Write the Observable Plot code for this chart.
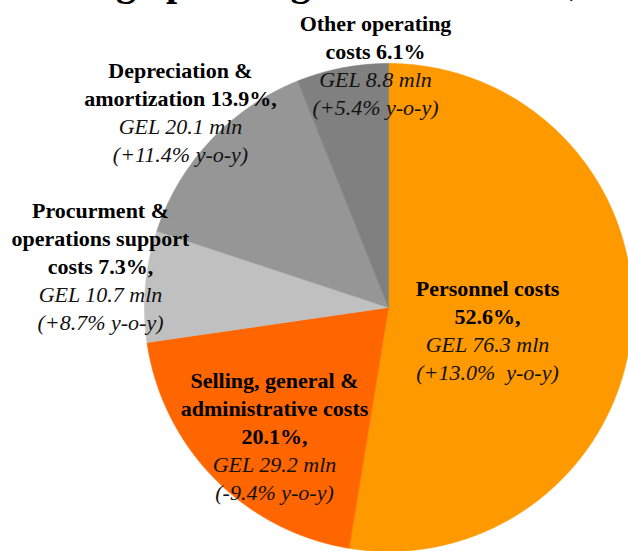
<!DOCTYPE html>
<html>
<head>
<meta charset="utf-8">
<script src="https://cdn.jsdelivr.net/npm/d3@7"></script>
<script src="https://cdn.jsdelivr.net/npm/@observablehq/plot@0.6"></script>
<style>
  html, body { margin: 0; padding: 0; background: #fff; }
  #chart svg { display: block; }
</style>
</head>
<body>
<div id="chart"></div>
<script>
// ---- data ----
const title = "Recurring operating costs structure, GEL mln";
const categories = [
  "Personnel costs",
  "Selling, general & administrative costs",
  "Procurment & operations support costs",
  "Depreciation & amortization",
  "Other operating costs"
];
const values = [76.3, 29.2, 10.7, 20.1, 8.8];          // GEL mln
const shares = ["52.6%", "20.1%", "7.3%", "13.9%", "6.1%"];
const yoy = ["+13.0%", "-9.4%", "+8.7%", "+11.4%", "+5.4%"];
const colors = ["#FF9900", "#FF6600", "#C0C0C0", "#969696", "#808080"];

// bold label lines (as broken in the original)
const boldLines = [
  ["Personnel costs", `${shares[0]},`],
  ["Selling, general &", "administrative costs", `${shares[1]},`],
  ["Procurment &", "operations support", `costs ${shares[2]},`],
  ["Depreciation &", `amortization ${shares[3]},`],
  ["Other operating", `costs ${shares[4]}`]
];
const italicLines = values.map((v, i) => [
  `GEL ${v.toFixed(1)} mln`,
  i === 0 ? `(${yoy[i]}\u00a0 y-o-y)` : `(${yoy[i]} y-o-y)`
]);

// ---- layout (pixels) ----
const W = 628, H = 551;
const CX = 388, CY = 307, R = 244;
const labelAnchor = [[487, 295], [274, 387], [100, 217], [180, 77], [375, 30]]; // centre x, first baseline
const lineStep = 28;
const FONT = "Liberation Serif, DejaVu Serif, serif";

// ---- slice geometry from values ----
const total = d3.sum(values);
const slicePts = [];
let acc = 0;
values.forEach((v, i) => {
  const a0 = acc / total * 2 * Math.PI;
  acc += v;
  const a1 = acc / total * 2 * Math.PI;
  const n = Math.max(2, Math.ceil((a1 - a0) / 0.005));
  slicePts.push({cat: categories[i], x: 0, y: 0});
  for (let k = 0; k <= n; k++) {
    const a = a0 + (a1 - a0) * k / n;
    slicePts.push({cat: categories[i], x: Math.sin(a), y: Math.cos(a)});
  }
  slicePts.push({cat: categories[i], x: 0, y: 0});
});

// ---- label rows ----
const rows = [];
categories.forEach((c, i) => {
  const [px, py] = labelAnchor[i];
  const lines = boldLines[i].map(t => ({t, bold: true})).concat(italicLines[i].map(t => ({t, bold: false})));
  lines.forEach((l, j) => {
    rows.push({
      x: (px - CX) / R,
      y: (CY - (py + j * lineStep)) / R,
      text: l.t,
      bold: l.bold
    });
  });
});

const chart = Plot.plot({
  width: W,
  height: H,
  margin: 0,
  style: {background: "#fff", overflow: "hidden"},
  x: {domain: [-CX / R, (W - CX) / R], axis: null},
  y: {domain: [-(H - CY) / R, CY / R], axis: null},
  color: {domain: categories, range: colors},
  marks: [
    Plot.line(slicePts, {x: "x", y: "y", z: "cat", fill: "cat", stroke: "cat", strokeWidth: 0.6, curve: "linear"}),
    Plot.text(rows.filter(d => d.bold), {
      x: "x", y: "y", text: "text", lineAnchor: "bottom", textAnchor: "middle",
      fontSize: 22, fontWeight: "bold", fill: "#000"
    }),
    Plot.text(rows.filter(d => !d.bold), {
      x: "x", y: "y", text: "text", lineAnchor: "bottom", textAnchor: "middle",
      fontSize: 22, fontStyle: "italic", fill: "#111"
    }),
    Plot.text([title], {
      frameAnchor: "top-left", dx: -40, dy: -6, lineAnchor: "bottom", textAnchor: "start",
      fontSize: 40, fontWeight: "bold", fill: "#000"
    })
  ]
});
chart.querySelectorAll("text").forEach(t => t.style.setProperty("font-family", FONT));
chart.style.setProperty("font-family", FONT);
document.getElementById("chart").appendChild(chart);
</script>
</body>
</html>
